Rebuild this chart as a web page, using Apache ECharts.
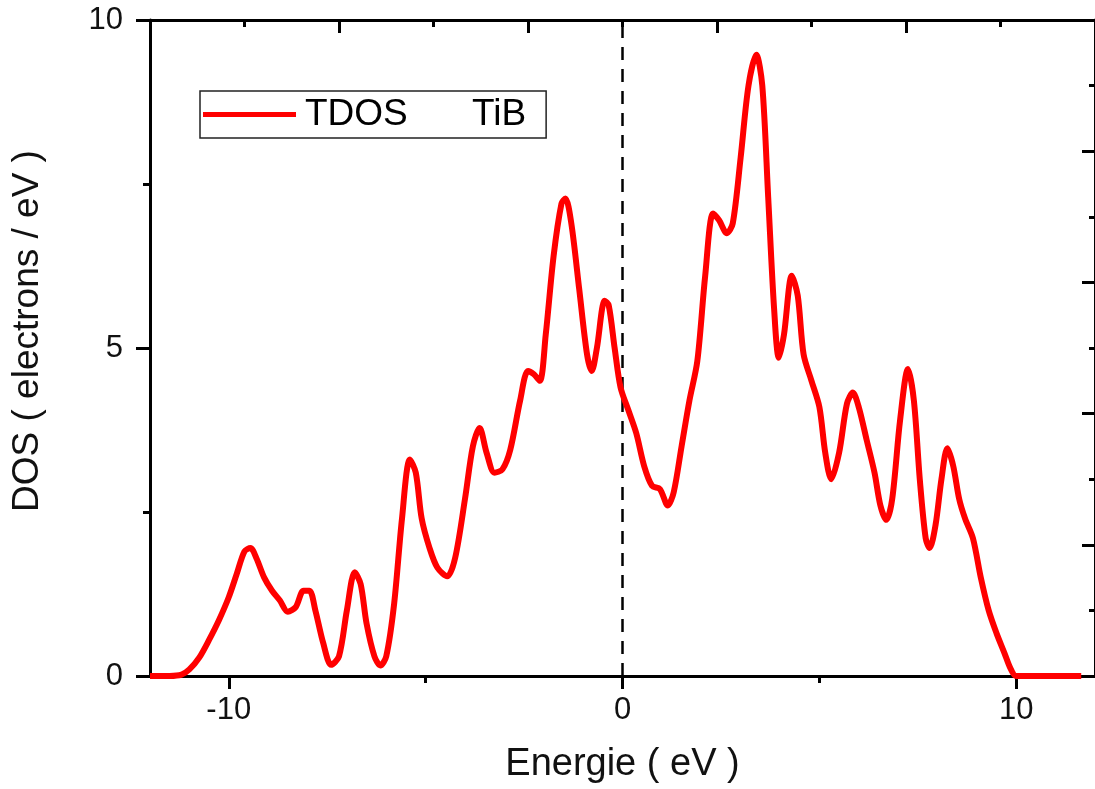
<!DOCTYPE html>
<html>
<head>
<meta charset="utf-8">
<script src="https://cdn.jsdelivr.net/npm/echarts@6/dist/echarts.min.js"></script>
<style>html,body{margin:0;padding:0;background:#fff}#c{width:1095px;height:789px}</style>
</head>
<body>
<div id="c"></div>
<script>
// Energy (eV)
const energy = [-12.0,-11.5,-11.2,-11.0,-10.75,-10.5,-10.25,-10.0,-9.8,-9.6,-9.45,-9.3,-9.1,-8.9,-8.7,-8.5,-8.3,-8.1,-7.95,-7.8,-7.6,-7.4,-7.2,-7.0,-6.8,-6.65,-6.5,-6.3,-6.15,-6.0,-5.8,-5.6,-5.4,-5.25,-5.1,-4.9,-4.7,-4.45,-4.25,-4.0,-3.8,-3.63,-3.45,-3.25,-3.05,-2.85,-2.6,-2.4,-2.25,-2.1,-1.95,-1.75,-1.55,-1.45,-1.3,-1.1,-0.9,-0.78,-0.65,-0.45,-0.35,-0.2,-0.05,0.15,0.35,0.55,0.75,0.95,1.15,1.3,1.5,1.7,1.9,2.1,2.3,2.45,2.65,2.8,3.0,3.2,3.4,3.55,3.7,3.85,3.97,4.1,4.3,4.45,4.6,4.8,5.0,5.15,5.3,5.5,5.7,5.85,6.0,6.2,6.4,6.55,6.7,6.85,7.05,7.25,7.4,7.55,7.7,7.8,7.95,8.1,8.25,8.4,8.55,8.7,8.9,9.1,9.3,9.5,9.7,9.85,10.0,11.65];
// Total DOS (electrons / eV)
const tdos = [0,0,0.02,0.1,0.28,0.55,0.85,1.2,1.55,1.9,1.95,1.8,1.5,1.3,1.15,0.98,1.05,1.3,1.3,1.0,0.5,0.17,0.3,1.0,1.58,1.4,0.8,0.3,0.16,0.3,1.1,2.4,3.3,3.1,2.4,1.95,1.65,1.52,1.8,2.7,3.5,3.78,3.4,3.1,3.15,3.45,4.2,4.65,4.6,4.5,5.2,6.4,7.2,7.28,6.9,5.9,4.9,4.65,5.0,5.72,5.65,5.0,4.4,4.05,3.7,3.2,2.9,2.85,2.6,2.8,3.5,4.2,4.8,6.1,7.05,6.95,6.75,6.9,7.9,9.0,9.47,9.0,7.3,5.6,4.85,5.2,6.1,5.8,4.9,4.5,4.1,3.4,3.0,3.4,4.15,4.32,4.1,3.6,3.1,2.6,2.38,2.7,3.9,4.68,4.2,3.0,2.1,1.95,2.3,3.0,3.47,3.2,2.7,2.4,2.1,1.5,1.0,0.65,0.35,0.12,0,0];
const xMajorTicks = [-10, 0, 10];
const xMinorTicks = [-5, 5];
const seriesName = 'TDOS';
const materialName = 'TiB';
const xTitle = 'Energie ( eV )';
const yTitle = 'DOS ( electrons / eV )';
const fermiLevel = 0;

const FONT = 'Liberation Sans, Arial, sans-serif';
const BLACK = '#000';
const chart = echarts.init(document.getElementById('c'), null, {renderer: 'canvas'});
const pts = energy.map((e, i) => [e, tdos[i]]);
const line = {onZero: false, lineStyle: {color: BLACK, width: 3}};
const hideAll = {show: false};

chart.setOption({
  animation: false,
  backgroundColor: '#fff',
  grid: {left: 150, top: 20, width: 947, height: 659},
  legend: {
    left: 200, top: 91,
    padding: [5, 20, 5, 3],
    borderColor: '#222', borderWidth: 1.5,
    itemWidth: 93, itemHeight: 5, itemGap: 0,
    data: [{name: seriesName, icon: 'rect'}],
    formatter: n => '{a|' + n + '}{b|' + materialName + '}',
    textStyle: {fontFamily: FONT, fontSize: 37, color: BLACK, padding: [0, 0, 0, 4],
      rich: {a: {fontFamily: FONT, fontSize: 37, width: 167, lineHeight: 36}, b: {fontFamily: FONT, fontSize: 37, lineHeight: 36}}}
  },
  xAxis: [
    {
      type: 'value', min: -12, max: 12, position: 'bottom',
      name: xTitle, nameLocation: 'middle', nameGap: 70,
      nameTextStyle: {fontFamily: FONT, fontSize: 38, color: '#111'},
      axisLine: line,
      axisTick: {show: true, inside: false, length: 13, customValues: xMajorTicks, lineStyle: {color: BLACK, width: 3}},
      axisLabel: {show: true, customValues: xMajorTicks, margin: 19, fontFamily: FONT, fontSize: 31, color: '#111'},
      splitLine: hideAll
    },
    {
      type: 'value', min: -12, max: 12, position: 'bottom',
      axisLine: {show: false, onZero: false},
      axisTick: {show: true, inside: false, length: 7, customValues: xMinorTicks, lineStyle: {color: BLACK, width: 3}},
      axisLabel: {show: false}, splitLine: hideAll
    },
    {
      type: 'value', min: 0, max: 10, interval: 2, position: 'top',
      axisLine: line,
      axisTick: {show: true, inside: true, length: 13, lineStyle: {color: BLACK, width: 3}},
      minorTick: {show: true, splitNumber: 2, length: 7, lineStyle: {color: BLACK, width: 3}},
      axisLabel: {show: false}, splitLine: hideAll
    }
  ],
  yAxis: [
    {
      type: 'value', min: 0, max: 10, interval: 5, position: 'left',
      name: yTitle, nameLocation: 'middle', nameGap: 104, nameRotate: 90,
      nameTextStyle: {fontFamily: FONT, fontSize: 37, color: '#111', padding: [0, 0, 0, 34]},
      axisLine: line,
      axisTick: {show: true, inside: false, length: 14, lineStyle: {color: BLACK, width: 3}},
      minorTick: {show: true, splitNumber: 2, length: 7, lineStyle: {color: BLACK, width: 3}},
      axisLabel: {margin: 27, fontFamily: FONT, fontSize: 31, color: '#111'},
      splitLine: hideAll
    },
    {
      type: 'value', min: 0, max: 10, interval: 2, position: 'right',
      axisLine: line,
      axisTick: {show: true, inside: true, length: 13, lineStyle: {color: BLACK, width: 3}},
      minorTick: {show: true, splitNumber: 2, length: 6, lineStyle: {color: BLACK, width: 3}},
      axisLabel: {show: false}, splitLine: hideAll
    }
  ],
  series: [{
    name: seriesName, type: 'line', xAxisIndex: 0, yAxisIndex: 0,
    data: pts, smooth: 0.3, symbol: 'none', clip: false,
    lineStyle: {color: '#ff0000', width: 6},
    itemStyle: {color: '#ff0000'},
    z: 5,
    markLine: {
      silent: true, symbol: 'none', label: {show: false},
      lineStyle: {color: BLACK, type: [13, 9], width: 2.5},
      data: [{xAxis: fermiLevel}]
    }
  }]
});
</script>
</body>
</html>
